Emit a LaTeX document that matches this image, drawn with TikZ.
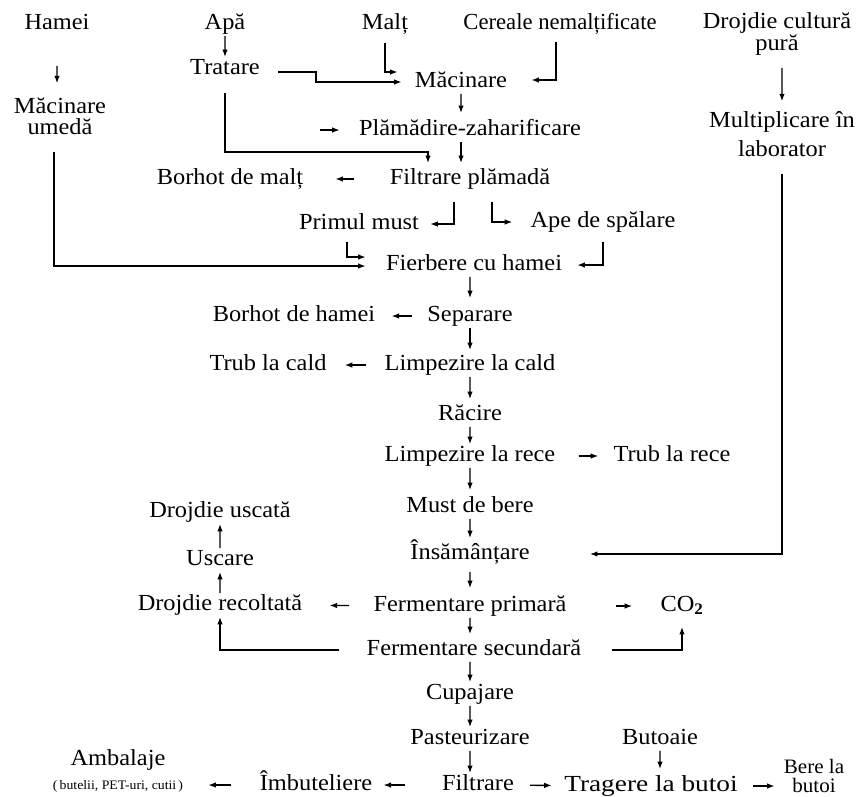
\documentclass[tikz,border=0pt]{standalone}
\usepackage{fontspec}
\setmainfont{Liberation Serif}
\usepackage{tikz}
\usetikzlibrary{arrows.meta,positioning}

\begin{document}
\begin{tikzpicture}[
  x=1pt, y=-1pt,
  lbl/.style={inner sep=2pt, text height=15pt, text depth=4.5pt,
              font=\fontsize{23}{20}\selectfont, xscale=1.06, transform shape},
  lbl2/.style={inner sep=2pt, align=center,
              font=\fontsize{23}{20}\selectfont, xscale=1.06, transform shape},
  arr/.style={-{Latex[length=7.5pt,width=5.5pt]}, line width=1.3pt}
]
\useasboundingbox (0,0) rectangle (859,796);

% raw materials
\node[lbl] (hamei) at (57,24) {Hamei};
\node[lbl] (apa) at (225,24) {Apă};
\node[lbl] (malt) at (385,24) {Malț};
\node[lbl, xscale=0.93] (cer) at (560,24) {Cereale nemalțificate};
\node[lbl2] (drojc) at (777,34) {Drojdie cultură\\[1pt]pură};

\node[lbl2] (macu) at (60,116) {Măcinare\\[1pt]umedă};
\node[lbl] (trat) at (225,69) {Tratare};
\node[lbl2] (mult) at (782,134) {Multiplicare în\\[7pt]laborator};

% main line
\node[lbl] (mac) at (461,82) {Măcinare};
\node[lbl] (plam) at (470,130) {Plămădire-zaharificare};
\node[lbl] (filt) at (470,179) {Filtrare plămadă};
\node[lbl] (borm) at (230,179) {Borhot de malț};
\node[lbl] (prim) at (359,224) {Primul must};
\node[lbl] (ape) at (603,222) {Ape de spălare};
\node[lbl] (fierb) at (474,265) {Fierbere cu hamei};
\node[lbl] (sep) at (470,316) {Separare};
\node[lbl] (borh) at (294,316) {Borhot de hamei};
\node[lbl] (limpc) at (470,365) {Limpezire la cald};
\node[lbl] (trubc) at (268,365) {Trub la cald};
\node[lbl] (rac) at (470,415) {Răcire};
\node[lbl] (limpr) at (470,456) {Limpezire la rece};
\node[lbl] (trubr) at (672,456) {Trub la rece};
\node[lbl] (must) at (470,507) {Must de bere};
\node[lbl] (ins) at (470,554) {Însămânțare};
\node[lbl] (drojus) at (220,512) {Drojdie uscată};
\node[lbl] (usc) at (220,560) {Uscare};
\node[lbl] (drojr) at (220,605) {Drojdie recoltată};
\node[lbl] (fprim) at (470,606) {Fermentare primară};
\node[lbl] (co2) at (682,606) {CO\textsubscript{\textbf{2}}};
\node[lbl] (fsec) at (474,650) {Fermentare secundară};
\node[lbl] (cup) at (470,694) {Cupajare};
\node[lbl] (past) at (470,739) {Pasteurizare};
\node[lbl] (filtr) at (478,785) {Filtrare};
\node[lbl] (imb) at (316,785) {Îmbuteliere};
\node[lbl2] (amb) at (118,771) {Ambalaje\\[4pt]{\fontsize{13}{13}\selectfont (\hspace{2pt}butelii, PET-uri, cutii\hspace{2pt})}};
\node[lbl] (but) at (660,739) {Butoaie};
\node[lbl, xscale=1.12] (trag) at (651,786) {Tragere la butoi};
\node[lbl2, font=\fontsize{20.5}{19}\selectfont, xscale=0.97] (bere) at (814,776) {Bere la\\butoi};

\coordinate (feed) at (320,130);

% mashing
\draw[arr, shorten <=30pt, shorten >=12pt] (hamei) -- (hamei |- macu.north);
\draw[arr] (apa) -- (trat);
\draw[arr] ([xshift=16pt,yshift=-3pt]trat.east) -- ++(38,0) |- ([xshift=-11pt]mac.west);
\draw[arr, shorten <=7pt] (malt) |- ([xshift=-15pt,yshift=10pt]mac.west);
\draw[arr, shorten <=6pt] ([xshift=-4pt]cer.south) |- ([xshift=22pt,yshift=2pt]mac.east);
\draw[arr, shorten >=5pt] (mac) -- (mac |- plam.north);
\draw[arr, shorten >=17pt] (feed) -- (plam);
\draw[arr, shorten >=4pt] (mac |- plam.south) -- (mac |- filt.north);
\draw[arr] ([yshift=-12pt]trat.south) -- ++(0,59) -| ([xshift=-42pt,yshift=4pt]filt.north);
\draw[arr, shorten <=33pt, shorten >=30pt] (filt) -- (borm);
\draw[arr, shorten <=11pt, shorten >=9pt] ([xshift=-16pt]filt.south) |- (prim);
\draw[arr, shorten <=11pt, shorten >=16pt] ([xshift=22pt]filt.south) |- (ape);

% boiling
\draw[arr, shorten <=6pt, shorten >=18pt] ([xshift=-12pt]prim.south) |- ([yshift=8pt]fierb.west);
\draw[arr, shorten <=15pt, shorten >=18pt] ([xshift=-6pt]macu.south) |- ([yshift=-1pt]fierb.west);
\draw[arr, shorten <=8pt, shorten >=13pt] (ape) |- (fierb);
\draw[arr, shorten >=6pt] (sep |- fierb.south) -- (sep);
\draw[arr, shorten <=13pt, shorten >=14pt] (sep) -- (borh);
\draw[arr, shorten >=3pt] (sep) -- (limpc);
\draw[arr, shorten <=16pt, shorten >=16pt] (limpc) -- (trubc);
\draw[arr, shorten >=4pt] (limpc) -- (rac);
\draw[arr] (rac) -- (limpr);
\draw[arr, shorten <=21pt, shorten >=13pt] (limpr) -- (trubr);
\draw[arr, shorten >=5pt] (limpr) -- (must);
\draw[arr, shorten >=4pt] (must) -- (ins);

% yeast
\draw[arr, shorten <=10pt, shorten >=8pt] (mult |- drojc.south) -- (mult);
\draw[arr, shorten <=15pt, shorten >=58pt] (mult) |- (ins);

% fermentation
\draw[arr, shorten <=6pt, shorten >=6pt] (ins) -- (fprim);
\draw[arr, shorten <=22pt, shorten >=25pt] (fprim) -- (drojr);
\draw[arr, shorten <=47pt, shorten >=26pt] (fprim) -- (co2);
\draw[arr, shorten >=4pt] (fprim) -- (fprim |- fsec.north);
\draw[arr, shorten <=28pt, shorten >=9pt] (fsec) -| (co2);
\draw[arr, shorten <=25pt] (fsec) -| (drojr);
\draw[arr] (drojr) -- (usc);
\draw[arr] (usc) -- (drojus);

% finishing
\draw[arr] (fprim |- fsec.south) -- (cup);
\draw[arr] (cup) -- (past);
\draw[arr] (past) -- (past |- filtr.north);
\draw[arr, shorten <=35pt, shorten >=9pt] (filtr) -- (imb);
\draw[arr, shorten <=26pt, shorten >=23pt] (imb) -- (imb -| amb.east);
\draw[arr, shorten <=14pt, shorten >=10pt] (filtr) -- (trag);
\draw[arr, shorten >=5pt] (but) -- (but |- trag.north);
\draw[arr, shorten <=13pt, shorten >=7pt] (trag) -- (trag -| bere.west);
\end{tikzpicture}
\end{document}
